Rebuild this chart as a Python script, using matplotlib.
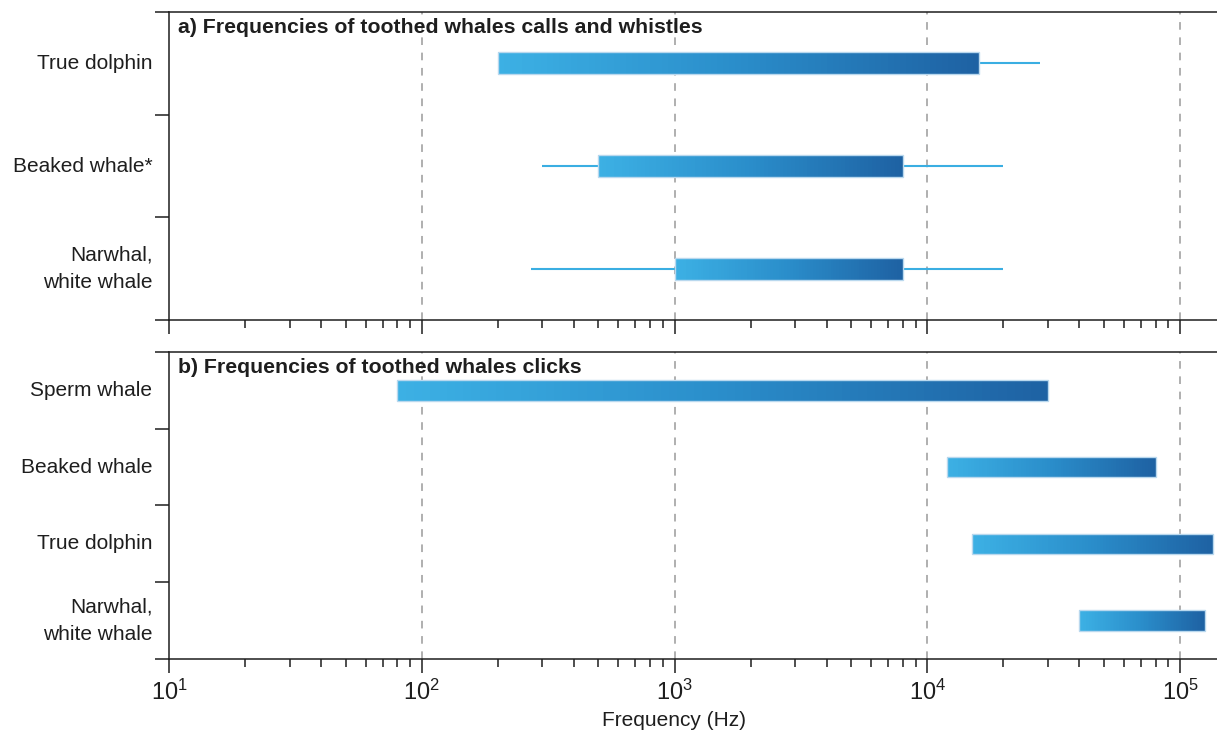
import matplotlib.pyplot as plt
import numpy as np
from matplotlib.colors import LinearSegmentedColormap
from matplotlib.patches import Rectangle

plt.rcParams['font.family'] = ['Liberation Sans', 'DejaVu Sans']
plt.rcParams['mathtext.default'] = 'regular'

# a) calls and whistles
calls_species = ['True dolphin', 'Beaked whale*', 'Narwhal,\nwhite whale']
calls_low = [200, 500, 1000]
calls_high = [16000, 8000, 8000]
calls_min = [200, 300, 270]
calls_max = [28000, 20000, 20000]

# b) clicks
clicks_species = ['Sperm whale', 'Beaked whale', 'True dolphin', 'Narwhal,\nwhite whale']
clicks_low = [80, 12000, 15000, 40000]
clicks_high = [30000, 80000, 135000, 125000]

grad = LinearSegmentedColormap.from_list('whale', ['#3cb0e4', '#2a8dca', '#1e62a3'])
whisker_col = '#3aaee2'
edge_col = '#b9d8ee'
ink = '#1e1e1e'


def gradient_bar(ax, y, lo, hi, h):
    xs = np.geomspace(lo, hi, 80)
    ys = [y - h / 2, y + h / 2]
    c = np.linspace(0, 1, len(xs) - 1).reshape(1, -1)
    ax.pcolormesh(xs, ys, c, cmap=grad, shading='flat', zorder=3)
    ax.add_patch(Rectangle((lo, y - h / 2), hi - lo, h, fill=False,
                           edgecolor=edge_col, lw=1.0, zorder=4))


def setup(ax, species, title):
    n = len(species)
    ax.set_xscale('log')
    ax.set_xlim(10, 1.4e5)
    ax.set_ylim(n - 0.5, -0.5)
    ax.set_yticks(range(n))
    ax.set_yticklabels(species, fontsize=15, color=ink, linespacing=1.55, va='center')
    ax.set_yticks(np.arange(n + 1) - 0.5, minor=True)
    ax.tick_params(axis='y', which='major', length=0, pad=12)
    ax.tick_params(axis='y', which='minor', length=10, width=1.1, color=ink, direction='out')
    ax.tick_params(axis='x', which='major', length=10, width=1.1, color=ink,
                   labelsize=17, labelcolor=ink, pad=5)
    ax.tick_params(axis='x', which='minor', length=6, width=1.1, color=ink)
    ax.spines['right'].set_visible(False)
    for s in ['left', 'top', 'bottom']:
        ax.spines[s].set_color(ink)
        ax.spines[s].set_linewidth(1.1)
    for d in [1e2, 1e3, 1e4, 1e5]:
        ax.axvline(d, color='#9a9a9a', lw=1.1, ls=(0, (5, 5)), zorder=1)
    ax.text(0.009, 0.98, title, transform=ax.transAxes, ha='left', va='top',
            fontsize=15.3, fontweight='bold', color=ink)


fig = plt.figure(figsize=(12.17, 7.31), dpi=100)
ax1 = fig.add_axes([0.1389, 0.5622, 0.8611, 0.4213])
ax2 = fig.add_axes([0.1389, 0.0985, 0.8611, 0.4200])

setup(ax1, calls_species, 'a) Frequencies of toothed whales calls and whistles')
for i in range(len(calls_species)):
    ax1.plot([calls_min[i], calls_max[i]], [i, i], color=whisker_col, lw=1.5,
             solid_capstyle='butt', zorder=2)
    gradient_bar(ax1, i, calls_low[i], calls_high[i], 0.215)
ax1.tick_params(axis='x', which='both', labelbottom=False)

setup(ax2, clicks_species, 'b) Frequencies of toothed whales clicks')
for i in range(len(clicks_species)):
    gradient_bar(ax2, i, clicks_low[i], clicks_high[i], 0.27)
ax2.set_xlabel('Frequency (Hz)', fontsize=15, color=ink)
ax2.xaxis.set_label_coords(0.482, -0.168)

fig.savefig('out.png', dpi=100)
